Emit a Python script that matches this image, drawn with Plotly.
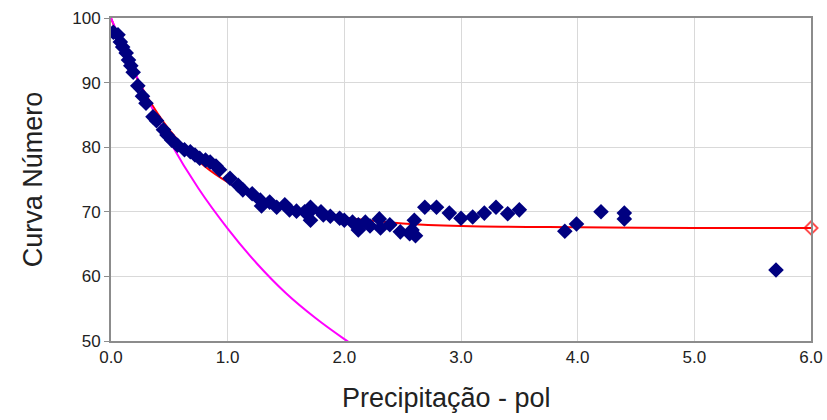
import plotly.graph_objects as go

# Observed data (precipitation in inches, curve number)
obs_p = [0.02, 0.06, 0.08, 0.10, 0.13, 0.15, 0.17, 0.19, 0.23, 0.27, 0.30, 0.36, 0.39,
         0.45, 0.48, 0.52, 0.57, 0.63, 0.68, 0.72, 0.76, 0.81, 0.85, 0.90, 0.93,
         1.02, 1.09, 1.13, 1.21, 1.28, 1.29, 1.36, 1.42, 1.49, 1.53, 1.59, 1.66,
         1.71, 1.71, 1.72, 1.80, 1.82, 1.88, 1.96, 2.00, 2.07, 2.12, 2.12, 2.18,
         2.22, 2.30, 2.31, 2.39, 2.48, 2.56, 2.58, 2.60, 2.61,
         2.69, 2.79, 2.90, 3.00, 3.10, 3.20, 3.30, 3.40, 3.50,
         3.89, 3.99, 4.20, 4.40, 4.40, 5.70]
obs_cn = [97.8, 97.4, 96.3, 95.5, 94.6, 93.5, 92.6, 91.6, 89.5, 87.9, 86.8, 84.7, 84.1,
          82.7, 81.9, 81.1, 80.3, 79.6, 79.3, 78.8, 78.3, 78.0, 77.7, 77.1, 76.5,
          75.2, 74.1, 73.4, 72.8, 71.8, 70.9, 71.5, 70.7, 71.1, 70.3, 70.1, 70.0,
          70.7, 68.7, 70.3, 70.0, 69.5, 69.3, 69.0, 68.7, 68.4, 68.0, 67.2, 68.4,
          67.8, 68.9, 67.5, 68.0, 66.9, 66.6, 67.2, 68.7, 66.3,
          70.7, 70.7, 69.8, 69.0, 69.2, 69.8, 70.7, 69.7, 70.3,
          67.0, 68.1, 70.0, 69.8, 68.9, 61.0]

# Fitted asymptotic curve
fit_p = [0.0, 0.1, 0.2, 0.3, 0.4, 0.5, 0.6, 0.8, 1.0, 1.2, 1.5, 2.0, 2.5, 3.0, 4.0, 5.0, 6.0]
fit_cn = [100.0, 95.4, 91.5, 88.1, 85.2, 82.7, 80.6, 77.1, 74.6, 72.7, 70.8, 69.1, 68.2,
          67.8, 67.6, 67.5, 67.5]

# Complacent curve
comp_p = [0.0, 0.25, 0.5, 0.75, 1.0, 1.25, 1.5, 1.75, 2.0, 2.1]
comp_cn = [100.0, 89.8, 81.0, 73.6, 67.4, 62.0, 57.4, 53.6, 50.3, 49.1]

x_ticks = [0, 1, 2, 3, 4, 5, 6]
x_labels = ["0.0", "1.0", "2.0", "3.0", "4.0", "5.0", "6.0"]
y_ticks = [50, 60, 70, 80, 90, 100]
x_title = "Precipitação - pol"
y_title = "Curva Número"

fig = go.Figure()
fig.add_trace(go.Scatter(
    x=fit_p, y=fit_cn, mode="lines+markers",
    line=dict(color="#ff0000", width=2, shape="spline"),
    marker=dict(symbol="diamond-open", size=[0] * (len(fit_p) - 1) + [10],
                color="#ff0000", line=dict(width=2, color="#ff0000")),
    showlegend=False, cliponaxis=False))
fig.add_trace(go.Scatter(
    x=comp_p, y=comp_cn, mode="lines",
    line=dict(color="#ff00ff", width=2, shape="spline"), showlegend=False))
fig.add_trace(go.Scatter(
    x=obs_p, y=obs_cn, mode="markers",
    marker=dict(symbol="diamond", size=12, color="#000080"),
    showlegend=False))

fig.update_layout(
    width=827, height=420,
    margin=dict(l=111, r=16, t=18, b=79),
    paper_bgcolor="white", plot_bgcolor="white",
    font=dict(family="Liberation Sans, Arial, sans-serif", color="#222222"),
    annotations=[dict(text=x_title, xref="paper", yref="paper", x=0.479, y=-0.177,
                      xanchor="center", yanchor="middle", showarrow=False,
                      font=dict(size=27, color="#222222"))],
)
fig.update_xaxes(
    range=[0, 6], tickvals=x_ticks, ticktext=x_labels, automargin=False,
    showgrid=True, gridcolor="#d9d9d9", gridwidth=1,
    showline=True, linecolor="#8c8c8c", linewidth=2, mirror=True,
    ticks="", tickfont=dict(size=17), zeroline=False,
)
fig.update_yaxes(
    range=[50, 100], tickvals=y_ticks, automargin=False,
    showgrid=True, gridcolor="#d9d9d9", gridwidth=1,
    showline=True, linecolor="#8c8c8c", linewidth=2, mirror=True,
    ticks="outside", ticklen=5, tickcolor="#8c8c8c",
    tickfont=dict(size=17), zeroline=False,
    title=dict(text=y_title, font=dict(size=27), standoff=22),
)

fig.write_html("out.html")
